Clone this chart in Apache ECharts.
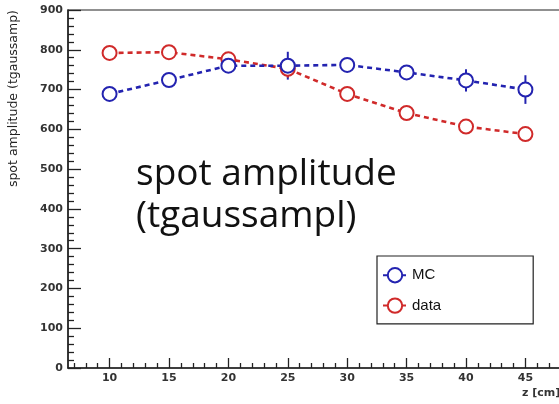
<!DOCTYPE html>
<html>
<head>
<meta charset="utf-8">
<script src="https://cdn.jsdelivr.net/npm/echarts@6/dist/echarts.min.js"></script>
<style>
  html, body { margin: 0; padding: 0; background: #fff; overflow: hidden; }
  #chart { width: 559px; height: 404px; }
</style>
</head>
<body>
<div id="chart"></div>
<script>
// z positions along the beam (cm)
const zPositions = [10, 15, 20, 25, 30, 35, 40, 45];
// fitted gaussian amplitude of the spot
const mcAmplitude   = [689, 724, 760, 760, 762, 743, 723, 700];
const mcError       = [8, 10, 10, 35, 10, 18, 28, 36];
const dataAmplitude = [792, 794, 776, 752, 689, 641, 607, 588];
const dataError     = [8, 8, 10, 22, 12, 14, 12, 8];
// tick positions on the z axis
const zMajorTicks = [10, 15, 20, 25, 30, 35, 40, 45];
const zMinorTicks = [7, 8, 9, 11, 12, 13, 14, 16, 17, 18, 19, 21, 22, 23, 24, 26, 27, 28, 29,
                     31, 32, 33, 34, 36, 37, 38, 39, 41, 42, 43, 44, 46, 47, 48];

const BLUE = '#2323b0';
const RED = '#d02a2a';
const AXIS = '#222';

function pairs(xs, ys) { return xs.map((x, i) => [x, ys[i]]); }
function errRows(xs, ys, es) { return xs.map((x, i) => [x, ys[i], es[i]]); }

function errorBars(color) {
  return function (params, api) {
    const x = api.value(0), y = api.value(1), e = api.value(2);
    const lo = api.coord([x, y - e]);
    const hi = api.coord([x, y + e]);
    return {
      type: 'line',
      shape: { x1: lo[0], y1: lo[1], x2: hi[0], y2: hi[1] },
      style: { stroke: color, lineWidth: 2 }
    };
  };
}

const chart = echarts.init(document.getElementById('chart'), null, { renderer: 'canvas' });

const option = {
  backgroundColor: '#fff',
  animation: false,
  grid: {
    left: 68, top: 10, width: 499, height: 358,
    outerBoundsMode: 'none',
    show: true, borderColor: AXIS, borderWidth: 1.2, backgroundColor: 'transparent'
  },
  xAxis: [
    {
      type: 'value', min: 6.5, max: 48.5,
      axisLine: { show: true, onZero: false, lineStyle: { color: AXIS, width: 1.5 } },
      axisTick: { show: true, inside: true, length: 10, customValues: zMajorTicks,
                  lineStyle: { color: AXIS, width: 1.3 } },
      axisLabel: { show: true, customValues: zMajorTicks, margin: 5,
                   fontFamily: 'DejaVu Sans', fontWeight: 'bold', fontSize: 11, color: '#333' },
      splitLine: { show: false }
    },
    {
      type: 'value', min: 6.5, max: 48.5, position: 'bottom',
      axisLine: { show: false },
      axisTick: { show: true, inside: true, length: 5, customValues: zMinorTicks,
                  lineStyle: { color: AXIS, width: 1.3 } },
      axisLabel: { show: false },
      splitLine: { show: false }
    }
  ],
  yAxis: {
    type: 'value', min: 0, max: 900, interval: 100,
    axisLine: { show: true, lineStyle: { color: AXIS, width: 1.5 } },
    axisTick: { show: true, inside: true, length: 13, lineStyle: { color: AXIS, width: 1.3 } },
    minorTick: { show: true, splitNumber: 5, length: 6, lineStyle: { color: AXIS, width: 1.3 } },
    axisLabel: { margin: 5, fontFamily: 'DejaVu Sans', fontWeight: 'bold', fontSize: 11, color: '#333' },
    splitLine: { show: false }
  },
  legend: {
    orient: 'vertical',
    left: 377, top: 256,
    padding: [11, 92, 10, 5],
    itemWidth: 24, itemHeight: 18, itemGap: 14,
    backgroundColor: '#fff',
    borderColor: AXIS, borderWidth: 1.2, borderRadius: 0,
    textStyle: { fontFamily: 'Liberation Sans', fontSize: 15, color: '#111' },
    data: ['MC', 'data']
  },
  graphic: [
    {
      type: 'text', x: 14, y: 10, rotation: Math.PI / 2,
      style: {
        text: 'spot amplitude (tgaussamp)', fill: '#222',
        font: '12.5px "DejaVu Sans"', align: 'right', verticalAlign: 'middle'
      }
    },
    {
      type: 'text', x: 522, y: 393,
      style: { text: 'z [cm]', fill: '#333', font: 'bold 11px "DejaVu Sans"',
               align: 'left', verticalAlign: 'middle' }
    },
    {
      type: 'text', x: 136, y: 153,
      style: {
        text: 'spot amplitude\n(tgaussampl)', fill: '#111',
        font: '37px "Open Sans"', lineHeight: 42, align: 'left', verticalAlign: 'top'
      }
    }
  ],
  series: [
    {
      name: 'MC errors', type: 'custom', renderItem: errorBars(BLUE),
      data: errRows(zPositions, mcAmplitude, mcError), z: 1, silent: true
    },
    {
      name: 'data errors', type: 'custom', renderItem: errorBars(RED),
      data: errRows(zPositions, dataAmplitude, dataError), z: 1, silent: true
    },
    {
      name: 'MC', type: 'line', data: pairs(zPositions, mcAmplitude), z: 3,
      symbol: 'emptyCircle', symbolSize: 14,
      itemStyle: { color: BLUE, borderWidth: 1.6 },
      lineStyle: { color: BLUE, width: 2.6, type: [5, 4] }
    },
    {
      name: 'data', type: 'line', data: pairs(zPositions, dataAmplitude), z: 2,
      symbol: 'emptyCircle', symbolSize: 14,
      itemStyle: { color: RED, borderWidth: 1.6 },
      lineStyle: { color: RED, width: 2.6, type: [5, 4] }
    }
  ]
};

chart.setOption(option);
</script>
</body>
</html>
